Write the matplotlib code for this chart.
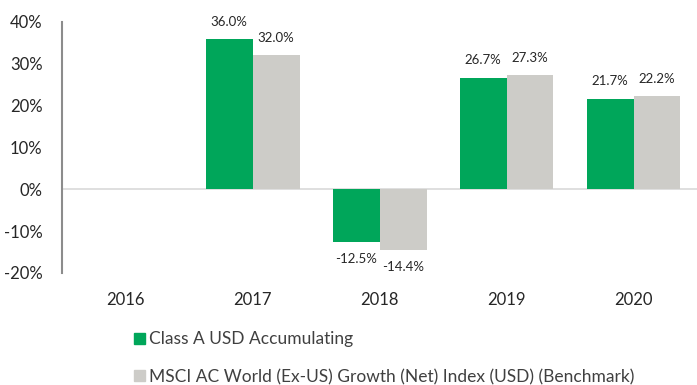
import numpy as np
import matplotlib.pyplot as plt
from matplotlib.patches import Patch

years = ["2016", "2017", "2018", "2019", "2020"]
fund = [np.nan, 36.0, -12.5, 26.7, 21.7]
bench = [np.nan, 32.0, -14.4, 27.3, 22.2]
fund_name = "Class A USD Accumulating"
bench_name = "MSCI AC World (Ex-US) Growth (Net) Index (USD) (Benchmark)"

green = "#00A65A"
grey = "#CDCCC8"
text_c = "#262626"

plt.rcParams["font.family"] = ["Lato", "DejaVu Sans"]

fig = plt.figure(figsize=(6.97, 3.85), dpi=100)
ax = fig.add_axes([0.089, 0.291, 0.911, 0.652])

x = np.arange(len(years))
w = 0.37
ax.bar(x - w / 2, fund, w, color=green, zorder=2)
ax.bar(x + w / 2, bench, w, color=grey, zorder=2)

for xs, vals in [(x - w / 2, fund), (x + w / 2, bench)]:
    for xi, v in zip(xs, vals):
        if np.isnan(v):
            continue
        off = 8 if v >= 0 else -8
        ax.annotate(f"{v:.1f}%", (xi, v), xytext=(0, off), textcoords="offset points",
                    ha="center", va="bottom" if v >= 0 else "top",
                    fontsize=9.5, color=text_c)

ax.set_xlim(-0.5, len(years) - 0.5)
ax.set_ylim(-20, 40)
ax.set_yticks(np.arange(-20, 41, 10))
ax.set_yticklabels([f"{t}%" for t in range(-20, 41, 10)], fontsize=12, color=text_c)
ax.set_xticks(x)
ax.set_xticklabels(years, fontsize=12, color=text_c)
ax.tick_params(length=0, axis="y", pad=14)
ax.tick_params(length=0, axis="x", pad=14)
ax.axhline(0, color="#D9D9D9", lw=1.2, zorder=1)

for s in ["top", "right", "bottom"]:
    ax.spines[s].set_visible(False)
ax.spines["left"].set_color("#8C8C8C")
ax.spines["left"].set_linewidth(1.5)

handles = [Patch(color=green), Patch(color=grey)]
fig.legend(handles, [fund_name, bench_name], loc="lower left",
           bbox_to_anchor=(0.183, -0.018), frameon=False, fontsize=12.5,
           handlelength=0.6, handleheight=0.6, handletextpad=0.25,
           labelspacing=1.25, labelcolor="#404040", borderaxespad=0)

fig.savefig("out.png", dpi=100)
